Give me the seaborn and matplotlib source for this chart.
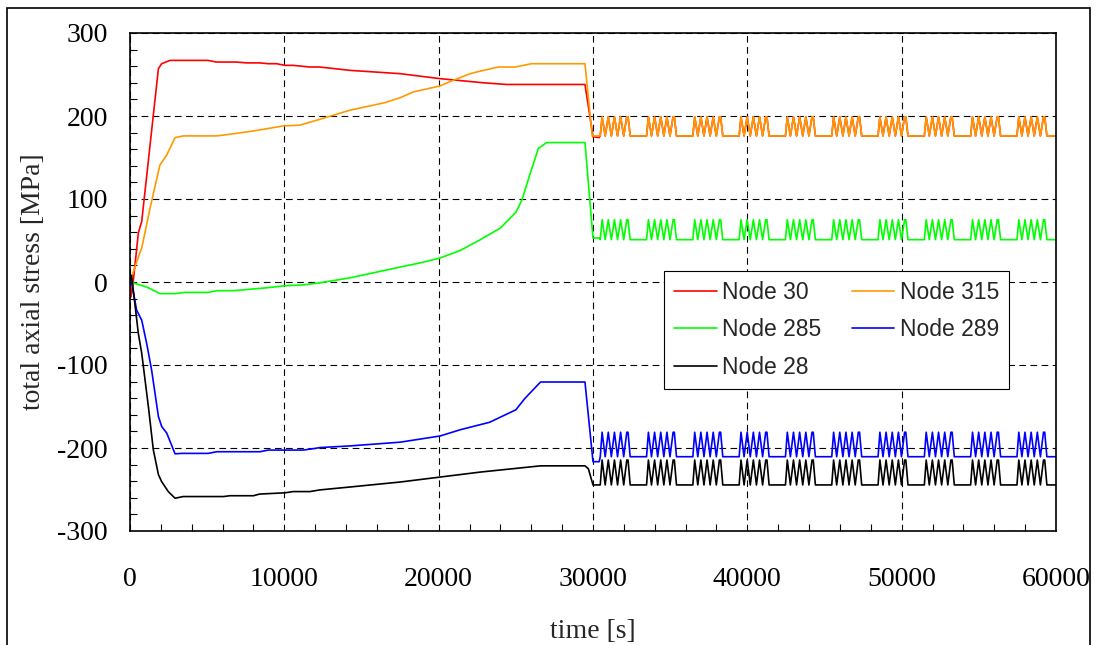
import matplotlib
matplotlib.use('Agg')
import matplotlib.pyplot as plt
from matplotlib.patches import Rectangle
from matplotlib.ticker import MultipleLocator
import seaborn as sns

sns.set_style('white')
plt.rcParams['font.family'] = ['Liberation Serif', 'DejaVu Serif']
plt.rcParams['axes.unicode_minus'] = False

# ---- data (time [s], stress [MPa]) ----
# first half: load-up and hold, up to the drop at ~30000 s
node30_t = [0, 60, 200, 540, 760, 1840, 2050, 2590, 5050, 5600, 6900, 7560, 8400, 8960, 9500,
            10040, 10580, 11660, 12300, 14250, 17500, 20090, 21800, 22900, 24400, 29480, 30000]
node30_v = [0, -18, -1, 59, 73, 257, 263, 267, 267, 265, 265, 264, 264, 263, 263,
            261, 261, 259, 259, 255, 251, 245, 242, 240, 238, 238, 175]

node315_t = [0, 540, 760, 1300, 1940, 2380, 2920, 3450, 5600, 6480, 8000, 9930, 11000, 12300,
             14250, 16500, 17500, 18360, 20040, 20950, 22030, 22900, 23860, 24950, 26020, 29480, 29950]
node315_v = [0, 30, 41, 89, 141, 153, 174, 176, 176, 178, 182, 188, 189, 196,
             207, 216, 222, 229, 236, 243, 251, 255, 259, 259, 263, 263, 176]

node285_t = [0, 1080, 1940, 2920, 3560, 5070, 5620, 6700, 8850, 10040, 11230, 12300, 14250,
             17500, 18800, 20100, 21400, 22700, 24000, 25000, 25400, 25900, 26460, 27000, 29480, 30000]
node285_v = [0, -6, -14, -14, -12.5, -12.5, -10.5, -10.5, -7, -4.5, -3.5, -1, 5,
             18, 23, 29, 38, 51, 65, 84, 99, 129, 161, 168, 168, 53]

node289_t = [0, 100, 430, 760, 1080, 1400, 1840, 2050, 2380, 2920, 3350, 5070, 5620, 8420,
             8960, 11230, 11990, 12300, 14250, 17500, 20100, 21400, 23300, 25000, 25600, 26600, 29480, 30000]
node289_v = [0, 0, -34, -46, -74, -106, -162, -174, -182, -207, -206.5, -206.5, -204.5, -204.5,
             -202.5, -202.5, -200.5, -199.5, -197.5, -193, -185.5, -178, -169, -154, -140, -120.5, -120.5, -216.5]

node28_t = [0, 100, 540, 760, 1190, 1510, 1840, 2050, 2480, 2920, 3450, 6050, 6480, 8000, 8400,
            9500, 10040, 10580, 11660, 12300, 14250, 17500, 20100, 22700, 25300, 26600, 29480, 29700, 30000]
node28_v = [0, 8, -62, -86, -150, -202, -232, -240.5, -252.5, -260.5, -258.5, -258.5, -257.5, -257.5, -255.5,
            -254.5, -254, -252.5, -252.5, -250.5, -247, -241, -235, -229, -224, -221.5, -221.5, -225, -244.5]

# second half: repeated load blocks (same block shape for every node)
block_starts = [30470, 33470, 36470, 39470, 42470, 45470, 48470, 51470, 54470, 57470]
block_offsets = [0, 120, 320, 520, 720, 920, 1120, 1320, 1520, 1720, 1800, 1940]
block_high = [0, 1, 0, 1, 0, 1, 0, 1, 0, 1, 1, 0]
t_end = 60000

# (first hold level, low level, high level) per node
levels = {
    'Node 30': (174, 176, 199),
    'Node 315': (176, 176, 199),
    'Node 285': (53, 51, 75),
    'Node 289': (-216.5, -210.5, -181),
    'Node 28': (-244.5, -244.5, -214.5),
}
first_parts = {
    'Node 30': (node30_t, node30_v),
    'Node 315': (node315_t, node315_v),
    'Node 285': (node285_t, node285_v),
    'Node 289': (node289_t, node289_v),
    'Node 28': (node28_t, node28_v),
}
colors = {'Node 30': '#ff0000', 'Node 315': '#ff9900', 'Node 285': '#00ff00',
          'Node 289': '#0000ff', 'Node 28': '#000000'}
draw_order = ['Node 30', 'Node 315', 'Node 285', 'Node 289', 'Node 28']
legend_order = ['Node 30', 'Node 285', 'Node 28', 'Node 315', 'Node 289']


def full_series(name):
    t, v = first_parts[name]
    first, low, high = levels[name]
    t = list(t) + [30400]
    v = list(v) + [first]
    for s in block_starts:
        for off, hi in zip(block_offsets, block_high):
            t.append(s + off)
            v.append(high if hi else low)
    t.append(t_end)
    v.append(low)
    return t, v


fig = plt.figure(figsize=(10.96, 6.45), dpi=100)
ax = fig.add_axes([130 / 1096, 1 - 531 / 645, 926 / 1096, 498 / 645])

# outer frame around the whole picture
fig.patches.append(Rectangle((7 / 1096, -0.02), 1083 / 1096, 1.02 - 8 / 645,
                             transform=fig.transFigure, fill=False,
                             edgecolor='black', linewidth=1.2))

lines = {}
for name in draw_order:
    t, v = full_series(name)
    sns.lineplot(x=t, y=v, color=colors[name], linewidth=1.2, label=name,
                 estimator=None, sort=False, ax=ax)
    lines[name] = ax.get_lines()[-1]

ax.set_xlim(0, 60000)
ax.set_ylim(-300, 300)
ax.set_xticks(range(0, 60001, 10000))
ax.set_yticks(range(-300, 301, 100))
ax.xaxis.set_minor_locator(MultipleLocator(2000))
ax.yaxis.set_minor_locator(MultipleLocator(20))
ax.tick_params(axis='both', which='both', direction='in', length=5, width=0.8,
               colors='black', labelsize=20)
ax.tick_params(axis='x', which='major', pad=26)
ax.tick_params(axis='y', which='major', pad=16)
ax.tick_params(which='minor', bottom=True, left=True)

ax.grid(True, which='major', color='black', linestyle=(0, (6, 4)), linewidth=0.8)
for sp in ax.spines.values():
    sp.set_color('black')
    sp.set_linewidth(1.2)

ax.set_xlabel('time [s]', fontsize=20, labelpad=19)
ax.set_ylabel('total axial stress [MPa]', fontsize=20, labelpad=8)

leg = ax.legend(handles=[lines[n] for n in legend_order], labels=legend_order,
                ncol=2, loc='upper left', bbox_to_anchor=(0.5767, 0.522), borderaxespad=0,
                prop={'family': 'Liberation Sans', 'size': 16.5},
                handlelength=1.87, handletextpad=0.26, columnspacing=1.3,
                labelspacing=0.64, borderpad=0.42, fancybox=False, framealpha=1,
                edgecolor='black')
leg.get_frame().set_linewidth(0.8)

fig.savefig('out.png', dpi=100)
